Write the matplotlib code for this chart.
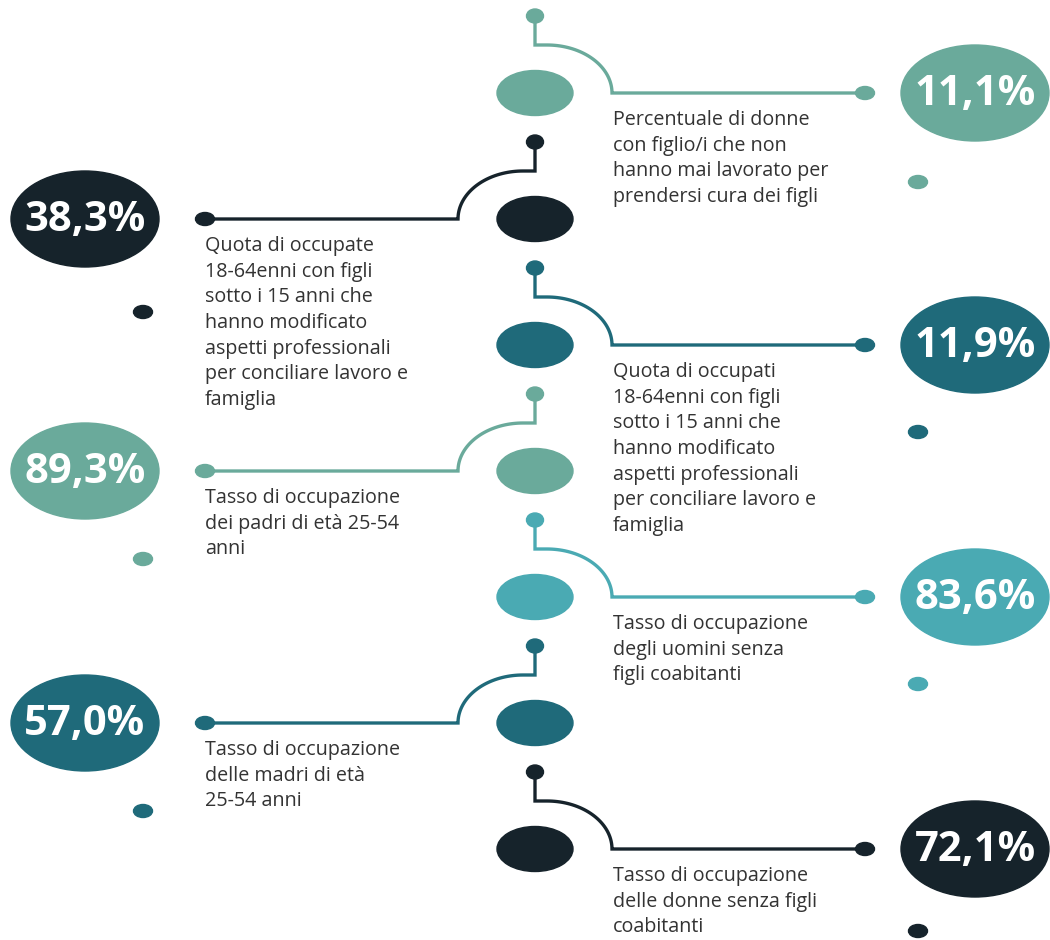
import numpy as np
import matplotlib
matplotlib.use("Agg")
import matplotlib.pyplot as plt
from matplotlib.patches import Ellipse

# Dati dell'infografica (dall'alto verso il basso)
valori = ["11,1%", "38,3%", "11,9%", "89,3%", "83,6%", "57,0%", "72,1%"]
etichette = [
    "Percentuale di donne\ncon figlio/i che non\nhanno mai lavorato per\nprendersi cura dei figli",
    "Quota di occupate\n18-64enni con figli\nsotto i 15 anni che\nhanno modificato\naspetti professionali\nper conciliare lavoro e\nfamiglia",
    "Quota di occupati\n18-64enni con figli\nsotto i 15 anni che\nhanno modificato\naspetti professionali\nper conciliare lavoro e\nfamiglia",
    "Tasso di occupazione\ndei padri di età 25-54\nanni",
    "Tasso di occupazione\ndegli uomini senza\nfigli coabitanti",
    "Tasso di occupazione\ndelle madri di età\n25-54 anni",
    "Tasso di occupazione\ndelle donne senza figli\ncoabitanti",
]
lati = ["dx", "sx", "dx", "sx", "dx", "sx", "dx"]

# Stile
colori = ["#6aaa9b", "#16232b", "#1f6a7a", "#6aaa9b", "#4aaab3", "#1f6a7a", "#16232b"]
off_pallino = [89, 93, 87, 88, 87, 88, 82]
font = "Open Sans"
colore_testo = "#333333"
y0, passo = 93, 126
cx = 535

fig = plt.figure(figsize=(10.5, 9.4), dpi=100)
ax = fig.add_axes([0, 0, 1, 1])
ax.set_xlim(0, 1050)
ax.set_ylim(940, 0)
ax.axis("off")

for i, (val, lab, lato, col) in enumerate(zip(valori, etichette, lati, colori)):
    y = y0 + i * passo
    # ellisse centrale
    ax.add_patch(Ellipse((cx, y), 76, 45, color=col, zorder=3))
    # pallino in alto e linea di collegamento
    ax.add_patch(Ellipse((cx, y - 77), 17, 14, color=col, zorder=3))
    t = np.linspace(0, np.pi / 2, 40)
    if lato == "dx":
        c0 = cx + 12
        arco_x = c0 + 65 * np.sin(t)
        xe, xb, xt, xs = 865, 975, 613, 918
    else:
        c0 = cx - 12
        arco_x = c0 - 65 * np.sin(t)
        xe, xb, xt, xs = 205, 85, 205, 143
    arco_y = y - 48 * np.cos(t)
    xs_line = np.concatenate([[cx, cx], arco_x, [xe]])
    ys_line = np.concatenate([[y - 77, y - 48], arco_y, [y]])
    ax.plot(xs_line, ys_line, color=col, lw=2.4, solid_joinstyle="miter",
            solid_capstyle="butt", zorder=2)
    ax.add_patch(Ellipse((xe, y), 19, 13, color=col, zorder=3))
    # ellisse grande con il valore
    ax.add_patch(Ellipse((xb, y), 148, 96, color=col, zorder=3))
    ax.text(xb, y + 1, val, color="white", fontsize=30, fontweight="bold",
            family=font, ha="center", va="center", zorder=4)
    # testo descrittivo
    righe = lab.split("\n")
    for k, r in enumerate(righe):
        ax.text(xt, y + 27 + k * 25.7, r, color=colore_testo, fontsize=14.2,
                family=font, ha="left", va="center")
    # pallino isolato
    ax.add_patch(Ellipse((xs, y + off_pallino[i]), 19, 13, color=col, zorder=3))

fig.savefig("out.png", dpi=100, facecolor="white")
